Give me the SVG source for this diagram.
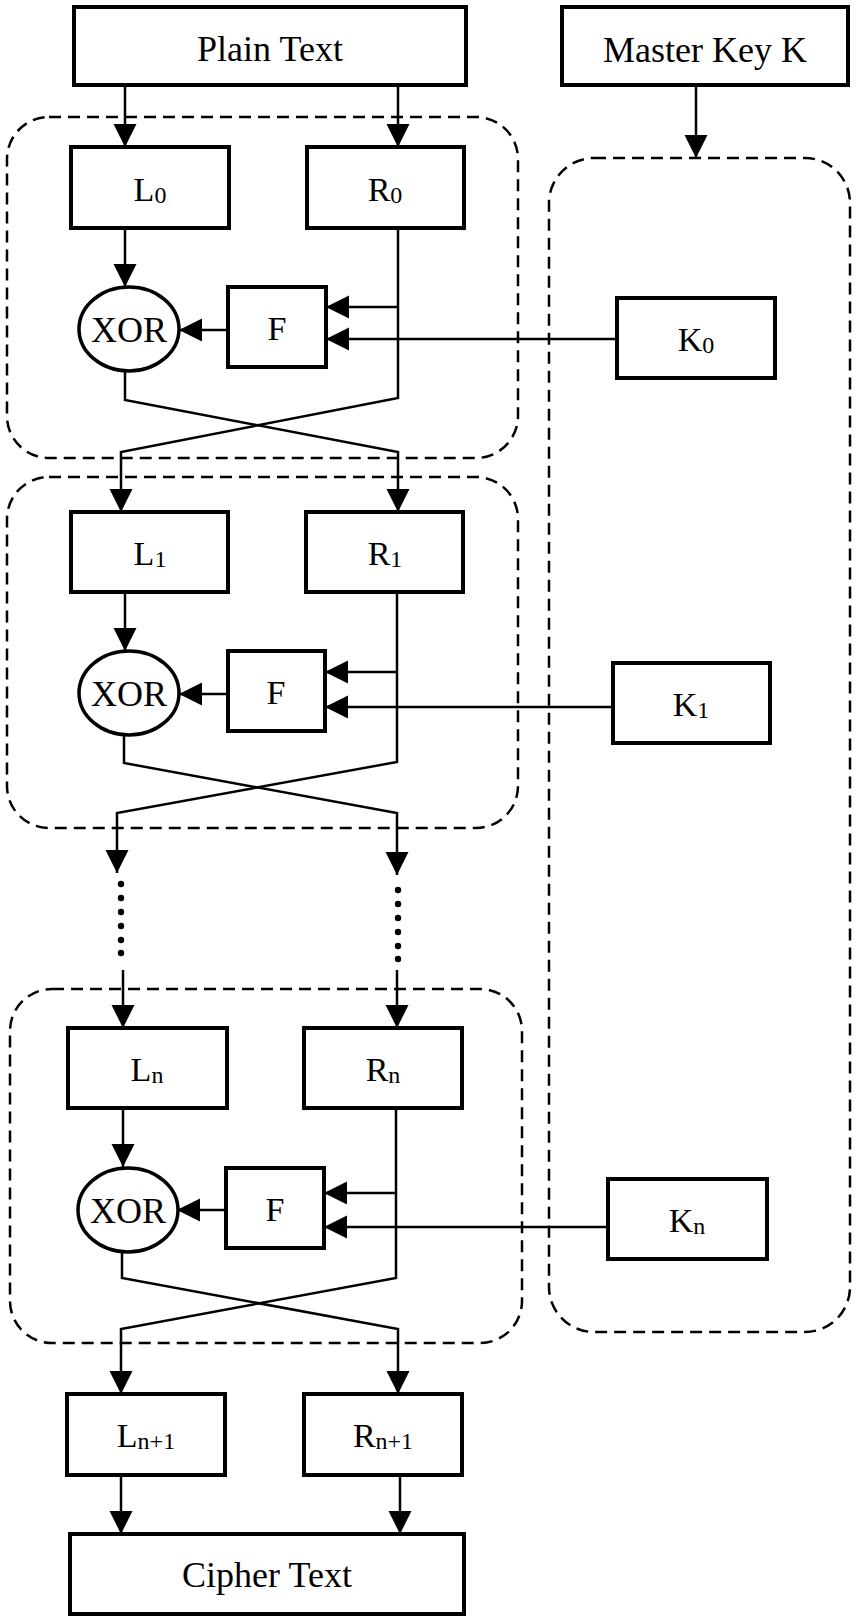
<svg xmlns="http://www.w3.org/2000/svg" width="857" height="1619" viewBox="0 0 857 1619">
<style>
.box{fill:#fff;stroke:#000;stroke-width:4}
.xor{fill:#fff;stroke:#000;stroke-width:3.5}
.grp{fill:none;stroke:#000;stroke-width:2.5;stroke-dasharray:12 7}
.c{fill:none;stroke:#000;stroke-width:2.5}
.ca{fill:none;stroke:#000;stroke-width:2.5;marker-end:url(#ah)}
text{font-family:"Liberation Serif","Times New Roman",serif;font-size:34px;text-anchor:middle;fill:#000}
.big{font-size:36px}
.sub{font-size:24px}
</style>
<defs>
<marker id="ah" viewBox="0 0 10 10" refX="10" refY="5" markerWidth="23" markerHeight="24" markerUnits="userSpaceOnUse" orient="auto">
<path d="M0,0 L10,5 L0,10 z" fill="#000"/>
</marker>
</defs>
<rect fill="#fff" width="857" height="1619"/>
<g id="groups">
<rect class="grp" x="7" y="117" width="511" height="341" rx="42"/>
<rect class="grp" x="7" y="477" width="511" height="351" rx="42"/>
<rect class="grp" x="10" y="989" width="512" height="354" rx="42"/>
<rect class="grp" x="549" y="158" width="301" height="1174" rx="45"/>
</g>
<g id="connectors">
<path class="ca" d="M125,85 V147"/>
<path class="ca" d="M398,85 V147"/>
<path class="ca" d="M696,85 V158"/>
<path class="ca" d="M125,228 V287"/>
<path class="ca" d="M398,228 V398 L121,452 V512"/>
<path class="ca" d="M125,371 V400 L398,452 V512"/>
<path class="ca" d="M398,307 H326"/>
<path class="ca" d="M228,330 H179"/>
<path class="ca" d="M617,339 H326"/>
<path class="ca" d="M125,592 V651"/>
<path class="ca" d="M397,592 V762 L117,813 V873"/>
<path class="ca" d="M124,735 V763 L397,813 V875"/>
<path class="ca" d="M397,672 H325"/>
<path class="ca" d="M228,694 H179"/>
<path class="ca" d="M613,707 H325"/>
<g fill="#000">
<circle cx="121" cy="884" r="3.2"/><circle cx="121" cy="898" r="3.2"/><circle cx="121" cy="912" r="3.2"/><circle cx="121" cy="926" r="3.2"/><circle cx="121" cy="940" r="3.2"/><circle cx="121" cy="953" r="3.2"/>
<circle cx="398" cy="890" r="3.2"/><circle cx="398" cy="904" r="3.2"/><circle cx="398" cy="918" r="3.2"/><circle cx="398" cy="932" r="3.2"/><circle cx="398" cy="946" r="3.2"/><circle cx="398" cy="959" r="3.2"/>
</g>
<path class="ca" d="M123,970 V1028"/>
<path class="ca" d="M397,970 V1028"/>
<path class="ca" d="M123,1108 V1167"/>
<path class="ca" d="M396,1108 V1278 L121,1329 V1394"/>
<path class="ca" d="M122,1253 V1278 L398,1329 V1394"/>
<path class="ca" d="M396,1193 H324"/>
<path class="ca" d="M226,1210 H177"/>
<path class="ca" d="M608,1227 H324"/>
<path class="ca" d="M121,1475 V1534"/>
<path class="ca" d="M400,1475 V1534"/>
</g>
<g id="plain"><rect class="box" x="74" y="7" width="392" height="78"/><text class="big" x="270" y="61">Plain Text</text></g>
<g id="master"><rect class="box" x="562" y="7" width="286" height="78"/><text class="big" x="705" y="62">Master Key K</text></g>
<g id="L0"><rect class="box" x="71" y="147" width="158" height="81"/><text x="150" y="201">L<tspan class="sub" dy="2">0</tspan></text></g>
<g id="R0"><rect class="box" x="307" y="147" width="157" height="81"/><text x="385" y="201">R<tspan class="sub" dy="2">0</tspan></text></g>
<g id="XOR0"><ellipse class="xor" cx="129" cy="329" rx="50" ry="42"/><text class="big" x="129" y="342">XOR</text></g>
<g id="F0"><rect class="box" x="228" y="287" width="98" height="80"/><text x="277" y="340">F</text></g>
<g id="K0"><rect class="box" x="617" y="298" width="158" height="80"/><text x="696" y="351">K<tspan class="sub" dy="2">0</tspan></text></g>
<g id="L1"><rect class="box" x="71" y="512" width="157" height="80"/><text x="150" y="565">L<tspan class="sub" dy="2">1</tspan></text></g>
<g id="R1"><rect class="box" x="306" y="512" width="157" height="80"/><text x="385" y="565">R<tspan class="sub" dy="2">1</tspan></text></g>
<g id="XOR1"><ellipse class="xor" cx="129" cy="693" rx="50" ry="42"/><text class="big" x="129" y="706">XOR</text></g>
<g id="F1"><rect class="box" x="228" y="651" width="97" height="80"/><text x="276" y="704">F</text></g>
<g id="K1"><rect class="box" x="613" y="663" width="157" height="80"/><text x="691" y="716">K<tspan class="sub" dy="2">1</tspan></text></g>
<g id="Ln"><rect class="box" x="68" y="1028" width="159" height="80"/><text x="147" y="1081">L<tspan class="sub" dy="2">n</tspan></text></g>
<g id="Rn"><rect class="box" x="304" y="1028" width="158" height="80"/><text x="383" y="1081">R<tspan class="sub" dy="2">n</tspan></text></g>
<g id="XORn"><ellipse class="xor" cx="128" cy="1210" rx="50" ry="42"/><text class="big" x="128" y="1223">XOR</text></g>
<g id="Fn"><rect class="box" x="226" y="1168" width="98" height="80"/><text x="275" y="1221">F</text></g>
<g id="Kn"><rect class="box" x="608" y="1179" width="159" height="80"/><text x="687" y="1232">K<tspan class="sub" dy="2">n</tspan></text></g>
<g id="Ln1"><rect class="box" x="67" y="1394" width="158" height="81"/><text x="146" y="1447">L<tspan class="sub" dy="2">n+1</tspan></text></g>
<g id="Rn1"><rect class="box" x="304" y="1394" width="158" height="81"/><text x="383" y="1447">R<tspan class="sub" dy="2">n+1</tspan></text></g>
<g id="cipher"><rect class="box" x="70" y="1534" width="394" height="80"/><text class="big" x="267" y="1587">Cipher Text</text></g>
</svg>
